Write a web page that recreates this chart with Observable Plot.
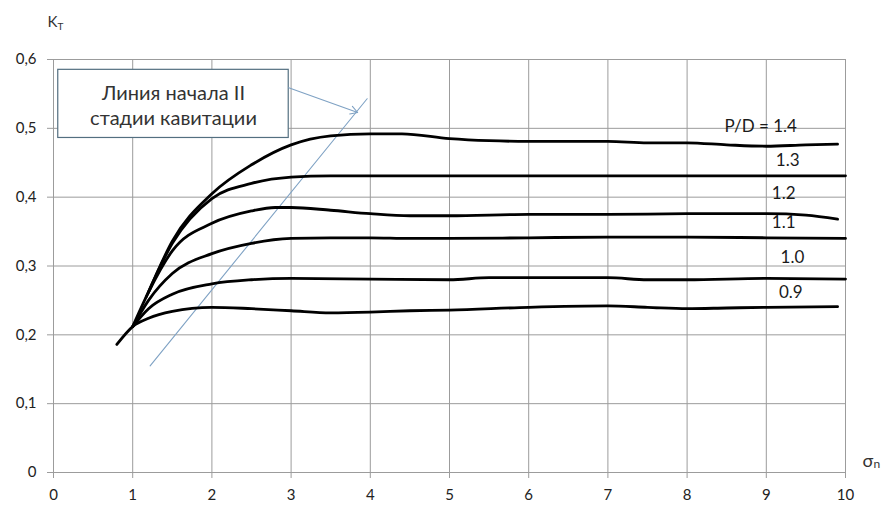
<!DOCTYPE html>
<html>
<head>
<meta charset="utf-8">
<script src="https://cdn.jsdelivr.net/npm/d3@7"></script>
<script src="https://cdn.jsdelivr.net/npm/@observablehq/plot@0.6"></script>
<style>
  html, body { margin: 0; padding: 0; background: #fff; }
  #chart svg { display: block; }
</style>
</head>
<body>
<div id="chart"></div>
<script>
// Thrust coefficient K_T versus cavitation number σ_n for pitch ratios P/D
const xTicks = [0, 1, 2, 3, 4, 5, 6, 7, 8, 9, 10];
const yTicks = [0, 0.1, 0.2, 0.3, 0.4, 0.5, 0.6];

const sigma09 = [0.8, 1.0, 1.2, 1.5, 2.0, 2.5, 3.0, 3.5, 4.0, 4.5, 5.0, 6.0, 7.0, 7.5, 8.0, 8.5, 9.0, 9.9];
const kt09    = [0.186, 0.212, 0.224, 0.234, 0.240, 0.238, 0.235, 0.232, 0.233, 0.235, 0.236, 0.240, 0.242, 0.240, 0.238, 0.239, 0.240, 0.241];

const sigma10 = [1.0, 1.2, 1.5, 2.0, 2.5, 3.0, 4.0, 5.0, 5.5, 6.0, 7.0, 7.5, 8.0, 9.0, 10.0];
const kt10    = [0.212, 0.238, 0.259, 0.274, 0.280, 0.282, 0.281, 0.280, 0.283, 0.283, 0.283, 0.280, 0.280, 0.282, 0.281];

const sigma11 = [1.0, 1.2, 1.5, 2.0, 2.5, 3.0, 3.5, 4.0, 4.5, 5.0, 6.0, 7.0, 8.0, 9.0, 10.0];
const kt11    = [0.212, 0.250, 0.289, 0.318, 0.333, 0.340, 0.341, 0.341, 0.340, 0.340, 0.341, 0.342, 0.342, 0.341, 0.340];

const sigma12 = [1.0, 1.2, 1.5, 2.0, 2.5, 2.8, 3.0, 3.5, 4.0, 4.5, 5.0, 6.0, 7.0, 8.0, 9.0, 9.5, 9.9];
const kt12    = [0.212, 0.262, 0.322, 0.362, 0.380, 0.385, 0.385, 0.381, 0.376, 0.373, 0.373, 0.375, 0.375, 0.376, 0.376, 0.374, 0.368];

const sigma13 = [1.17, 1.5, 2.0, 2.5, 3.0, 3.5, 4.0, 5.0, 6.0, 7.0, 8.0, 9.0, 10.0];
const kt13    = [0.255, 0.333, 0.398, 0.420, 0.429, 0.431, 0.431, 0.431, 0.431, 0.431, 0.431, 0.431, 0.431];

const sigma14 = [1.2, 1.5, 2.0, 2.5, 3.0, 3.5, 4.0, 4.4, 5.0, 5.5, 6.0, 7.0, 7.5, 8.0, 8.5, 9.0, 9.5, 9.9];
const kt14    = [0.262, 0.336, 0.405, 0.447, 0.476, 0.489, 0.492, 0.492, 0.485, 0.482, 0.481, 0.481, 0.479, 0.479, 0.476, 0.474, 0.476, 0.477];

const pitchRatios = ["0.9", "1.0", "1.1", "1.2", "1.3", "1.4"];
const seriesX = [sigma09, sigma10, sigma11, sigma12, sigma13, sigma14];
const seriesY = [kt09, kt10, kt11, kt12, kt13, kt14];

// Curve labels, anchored in data units
const labelText = ["0.9", "1.0", "1.1", "1.2", "1.3", "P/D = 1.4"];
const labelX    = [9.31, 9.33, 9.22, 9.22, 9.27, 8.93];
const labelY    = [0.262, 0.312, 0.363, 0.405, 0.453, 0.503];

// Onset line of the second cavitation stage, with its note and pointer
const onsetX = [1.22, 3.96];
const onsetY = [0.155, 0.543];
const noteBox = {x1: 0.06, x2: 2.97, y1: 0.486, y2: 0.585};
const noteText = "Линия начала II\nстадии кавитации";
const noteAt = {x: 1.515, y: 0.535};
const pointer = {x1: 2.97, y1: 0.559, x2: 3.84, y2: 0.523};

const rows = pitchRatios.flatMap((pd, i) =>
  seriesX[i].map((s, j) => ({pd, sigma: s, kt: seriesY[i][j]}))
);
const labels = labelText.map((t, i) => ({t, x: labelX[i], y: labelY[i]}));
const onset = onsetX.map((x, i) => ({x, y: onsetY[i]}));

const gridColor = "#9c9c9c";
const blue = "#7fa2c4";
const font = "Lato, 'Open Sans', sans-serif";

const chart = Plot.plot({
  width: 885,
  height: 508,
  marginLeft: 53,
  marginRight: 40,
  marginTop: 59,
  marginBottom: 36,
  style: {fontFamily: font, fontSize: "15px", color: "#333", background: "#fff"},
  x: {domain: [0, 10], label: null},
  y: {domain: [0, 0.6], label: null},
  marks: [
    Plot.gridX(xTicks, {stroke: gridColor, strokeOpacity: 1, strokeWidth: 1}),
    Plot.gridY(yTicks, {stroke: gridColor, strokeOpacity: 1, strokeWidth: 1}),
    Plot.axisX({
      ticks: xTicks, tickSize: 6, tickPadding: 11, stroke: gridColor,
      tickFormat: d => String(d), fill: "#222", fontSize: 15
    }),
    Plot.axisY({
      ticks: yTicks, tickSize: 6, tickPadding: 11, stroke: gridColor,
      tickFormat: d => d === 0 ? "0" : d.toFixed(1).replace(".", ","), fill: "#222", fontSize: 15
    }),
    Plot.line(onset, {x: "x", y: "y", stroke: blue, strokeWidth: 1.1}),
    Plot.line(rows, {
      x: "sigma", y: "kt", z: "pd", stroke: "#000", strokeWidth: 2.8,
      curve: "monotone-x", strokeLinecap: "round"
    }),
    Plot.rect([noteBox], {
      x1: "x1", x2: "x2", y1: "y1", y2: "y2",
      fill: "#fff", stroke: "#536f80", strokeWidth: 1.2
    }),
    Plot.text([noteAt], {
      x: "x", y: "y", text: () => noteText, fontSize: 20,
      lineHeight: 1.25, fill: "#333", fontFamily: font
    }),
    Plot.arrow([pointer], {
      x1: "x1", y1: "y1", x2: "x2", y2: "y2",
      stroke: blue, strokeWidth: 1.1, bend: 0, headLength: 11
    }),
    Plot.text(labels, {
      x: "x", y: "y", text: "t", fontSize: 17, fill: "#1a1a1a", fontFamily: font
    }),
    // Axis titles K_T and σ_n with subscripts
    Plot.text(["K"], {
      frameAnchor: "top-left", text: d => d, dx: -6, dy: -33,
      textAnchor: "start", lineAnchor: "bottom", fontSize: 15, fill: "#333"
    }),
    Plot.text(["T"], {
      frameAnchor: "top-left", text: d => d, dx: 4, dy: -30,
      textAnchor: "start", lineAnchor: "bottom", fontSize: 10, fill: "#333"
    }),
    Plot.text(["σ"], {
      frameAnchor: "bottom-right", text: d => d, dx: 17, dy: -6,
      textAnchor: "start", lineAnchor: "bottom", fontSize: 18, fill: "#333"
    }),
    Plot.text(["n"], {
      frameAnchor: "bottom-right", text: d => d, dx: 28, dy: -5,
      textAnchor: "start", lineAnchor: "bottom", fontSize: 12, fill: "#333"
    })
  ]
});

document.getElementById("chart").appendChild(chart);
</script>
</body>
</html>
